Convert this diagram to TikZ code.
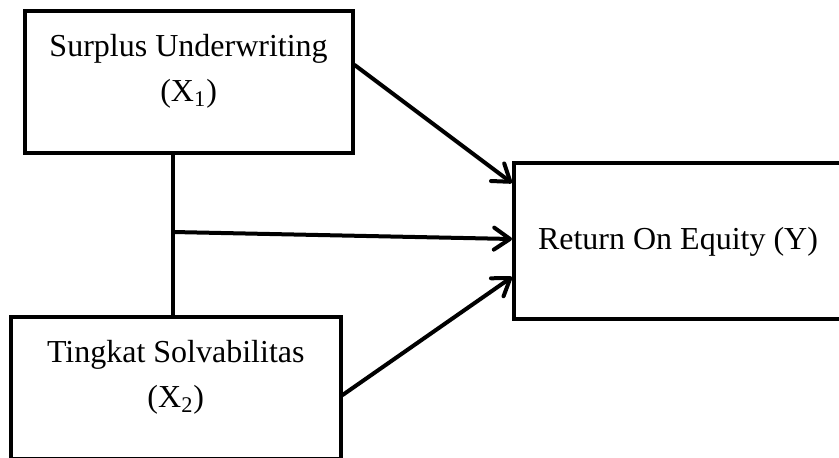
\documentclass[tikz,border=0pt]{standalone}
\usepackage{fontspec}
\setmainfont{Liberation Serif}
\usepackage{tikz}
\usetikzlibrary{arrows.meta,positioning}

\begin{document}
\begin{tikzpicture}[x=1pt,y=1pt]
\tikzset{var/.style={draw,line width=2pt,minimum width=164pt,inner sep=0pt}}
\tikzset{lbl/.style={align=center,inner sep=0pt,font=\fontsize{16}{22.5}\selectfont}}
\tikzset{arr/.style={line width=2pt,line cap=round,-{Straight Barb[length=8pt,width=11pt,round]}}}

\useasboundingbox (0,0) rectangle (419.5,228.5);

\node[var,minimum height=71.3pt] (x1) at (94.3,187.5) {};
\node[var,minimum height=71.3pt,minimum width=164.8pt] (x2) at (87.9,34.5) {};
\node[var,lbl,minimum height=78pt,minimum width=164pt] (y) at (339,107.8) {Return On Equity (Y)};

\node[lbl,below=12.5pt of x1.north] (x1txt) {Surplus Underwriting\\(X\textsubscript{1})};
\node[lbl,below=12.5pt of x2.north] (x2txt) {Tingkat Solvabilitas\\(X\textsubscript{2})};

\coordinate (split) at (86.5,112.5);
\draw[line width=2pt] (x1.south -| split) -- (x2.north -| split);
\draw[arr] (split) -- ([yshift=1.2pt]y.west);
\draw[arr] ([yshift=8.5pt]x1.east) -- ([yshift=29.2pt]y.west);
\draw[arr] ([yshift=-3.5pt]x2.east) -- ([yshift=-17.8pt]y.west);

\end{tikzpicture}
\end{document}
